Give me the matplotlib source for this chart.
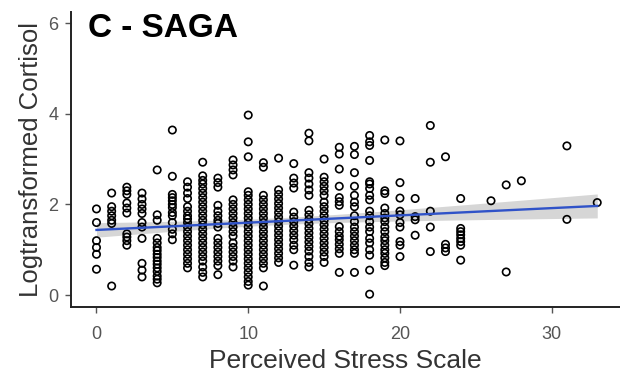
import numpy as np
import matplotlib
matplotlib.use('Agg')
from matplotlib import pyplot as plt

plt.rcParams['font.family'] = ['Liberation Sans', 'DejaVu Sans']

# Perceived Stress Scale score and log cortisol values read for each score
stress_levels = [0, 1, 2, 3, 4, 5, 6, 7, 8, 9, 10, 11, 12, 13, 14, 15, 16, 17,
                 18, 19, 20, 21, 22, 23, 24, 26, 27, 28, 31, 33]
cortisol_by_level = [
    [1.9, 1.6, 1.2, 1.05, 0.9, 0.57],
    [2.25, 1.95, 1.85, 1.75, 1.65, 1.58, 0.2],
    [2.38, 2.3, 2.22, 2.03, 1.92, 1.81, 1.35, 1.28, 1.2, 1.1],
    [2.25, 2.12, 2.0, 1.9, 1.8, 1.6, 1.5, 1.25, 0.7, 0.55, 0.4],
    [2.76, 1.77, 1.65, 1.25, 1.15, 1.05, 0.98, 0.9, 0.83, 0.75, 0.68, 0.6, 0.52, 0.42, 0.35, 0.27],
    [3.64, 2.62, 2.22, 2.15, 2.08, 2.0, 1.93, 1.82, 1.75, 1.6, 1.45, 1.35, 1.22],
    [2.5, 2.38, 2.25, 2.13, 1.95, 1.85, 1.75, 1.68, 1.6, 1.5, 1.4, 1.3, 1.2, 1.1, 1.0, 0.9, 0.8, 0.7, 0.6],
    [2.93, 2.63, 2.53, 2.45, 2.35, 2.25, 2.15, 2.05, 1.95, 1.85, 1.75, 1.65, 1.55, 1.45, 1.35, 1.25,
     1.15, 1.05, 0.95, 0.85, 0.75, 0.62, 0.5, 0.4],
    [2.58, 2.48, 2.38, 1.98, 1.85, 1.75, 1.65, 1.58, 1.5, 1.25, 1.15, 1.05, 0.95, 0.85, 0.75, 0.65, 0.45],
    [2.98, 2.87, 2.76, 2.65, 2.1, 2.0, 1.9, 1.8, 1.7, 1.6, 1.5, 1.4, 1.3, 1.15, 1.05, 0.95, 0.85, 0.75, 0.62],
    [3.97, 3.38, 3.05, 2.28, 2.2, 2.1, 2.0, 1.9, 1.8, 1.7, 1.6, 1.5, 1.4, 1.3, 1.2, 1.1, 1.0, 0.9, 0.8,
     0.7, 0.6, 0.5, 0.4, 0.3, 0.22],
    [2.92, 2.82, 2.2, 2.1, 2.0, 1.9, 1.8, 1.7, 1.6, 1.5, 1.4, 1.3, 1.2, 1.1, 1.0, 0.9, 0.8, 0.7, 0.6, 0.2],
    [3.02, 2.32, 2.22, 2.12, 2.02, 1.92, 1.82, 1.72, 1.62, 1.52, 1.42, 1.32, 1.22, 1.12, 1.02, 0.92, 0.82, 0.72],
    [2.9, 2.58, 2.47, 2.36, 1.83, 1.72, 1.62, 1.52, 1.42, 1.32, 1.22, 1.1, 1.0, 0.66],
    [3.57, 3.4, 2.7, 2.58, 2.45, 2.32, 2.2, 1.87, 1.77, 1.67, 1.57, 1.47, 1.37, 1.27, 1.17, 1.07, 0.97, 0.85, 0.72, 0.62],
    [3.0, 2.6, 2.5, 2.4, 2.3, 2.2, 2.05, 1.95, 1.85, 1.75, 1.65, 1.55, 1.45, 1.35, 1.25, 1.15, 1.05, 0.95, 0.85, 0.72],
    [3.26, 3.11, 2.78, 2.4, 2.15, 2.06, 1.98, 1.51, 1.4, 1.3, 1.22, 1.12, 1.02, 0.92, 0.5],
    [3.28, 3.1, 2.7, 2.4, 2.2, 2.05, 1.95, 1.75, 1.62, 1.5, 1.4, 1.3, 1.2, 1.1, 1.0, 0.92, 0.5],
    [3.52, 3.38, 3.3, 2.97, 2.5, 2.45, 2.35, 2.2, 2.1, 1.85, 1.75, 1.62, 1.5, 1.4, 1.25, 1.15, 1.0, 0.88, 0.55, 0.02],
    [3.42, 2.3, 2.24, 1.92, 1.8, 1.7, 1.62, 1.5, 1.4, 1.28, 1.2, 1.1, 1.0, 0.92, 0.82, 0.72, 0.65],
    [3.4, 2.48, 2.14, 1.85, 1.77, 1.6, 1.5, 1.18, 1.1, 0.85],
    [2.13, 1.73, 1.66, 1.32],
    [3.74, 2.93, 1.85, 1.5, 0.96],
    [3.05, 1.12, 1.04, 0.96],
    [2.13, 1.47, 1.4, 1.33, 1.25, 1.18, 1.1, 0.77],
    [2.08],
    [2.43, 0.51],
    [2.52],
    [3.29, 1.67],
    [2.04],
]

x = np.concatenate([[s] * len(v) for s, v in zip(stress_levels, cortisol_by_level)]).astype(float)
y = np.concatenate(cortisol_by_level)

# linear fit with 95% confidence band (like geom_smooth(method='lm'))
slope, intercept = np.polyfit(x, y, 1)
n = len(x)
resid = y - (slope * x + intercept)
s_err = np.sqrt(np.sum(resid ** 2) / (n - 2))
x_fit = np.linspace(x.min(), x.max(), 100)
y_fit = slope * x_fit + intercept
se = s_err * np.sqrt(1 / n + (x_fit - x.mean()) ** 2 / np.sum((x - x.mean()) ** 2))

fig = plt.figure(figsize=(6.2, 3.77), dpi=100)
ax = fig.add_axes([0.1145, 0.186, 0.8855, 0.783])

ax.fill_between(x_fit, y_fit - 1.96 * se, y_fit + 1.96 * se, color='#999999', alpha=0.4, lw=0, zorder=1)
ax.scatter(x, y, s=28, facecolors='none', edgecolors='black', linewidths=1.2, zorder=2)
ax.plot(x_fit, y_fit, color='#2f52c8', lw=1.7, zorder=3)

ax.set_xlim(-1.68, 34.5)
ax.set_ylim(-0.26, 6.25)
ax.set_xticks([0, 10, 20, 30])
ax.set_yticks([0, 2, 4, 6])

for side in ['top', 'right']:
    ax.spines[side].set_visible(False)
for side in ['left', 'bottom']:
    ax.spines[side].set_linewidth(1.4)
    ax.spines[side].set_color('#222222')
ax.tick_params(colors='#555555', labelsize=13, length=4, width=1)
ax.tick_params(axis='x', pad=10)
ax.tick_params(axis='y', pad=5)

ax.set_xlabel('Perceived Stress Scale', fontsize=19, color='#333333', labelpad=4)
ax.set_ylabel('Logtransformed Cortisol', fontsize=18.5, color='#333333', labelpad=4)
ax.text(0.031, 0.995, 'C - SAGA', transform=ax.transAxes, fontsize=24,
        fontweight='bold', va='top', ha='left')

fig.savefig('out.png', dpi=100)
